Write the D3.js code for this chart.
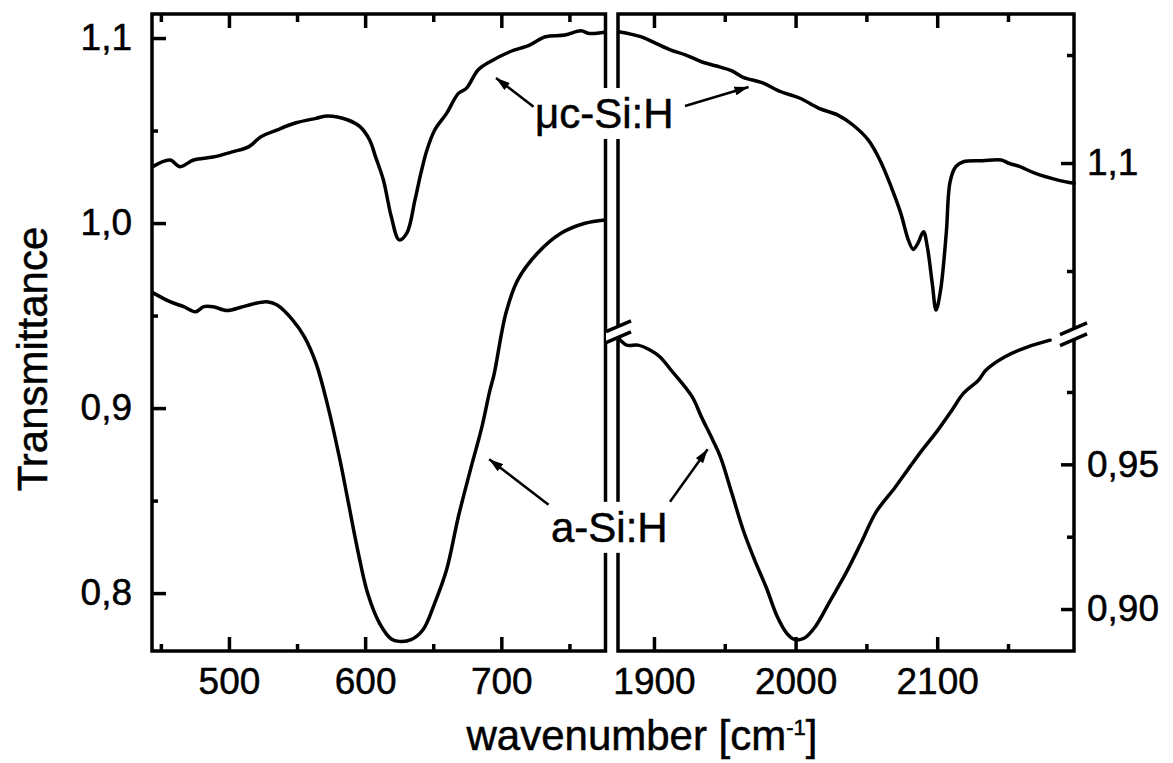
<!DOCTYPE html>
<html>
<head>
<meta charset="utf-8">
<script src="https://cdn.jsdelivr.net/npm/d3@7"></script>
<style>
  body { margin: 0; background: #fff; }
  svg { display: block; font-family: "Liberation Sans", Arial, Helvetica, sans-serif; }
  svg text { stroke: #000; stroke-width: 0.5px; }
</style>
</head>
<body>
<svg width="1173" height="763"></svg>
<script>
// low wavenumber window (Si-H wagging), cm-1 / transmittance
const microLowX = [444, 456.7, 464.1, 474.1, 488.3, 503.0, 514.7, 523.5, 535.1, 549.2, 563.9, 572.7, 587.4, 596.2, 603.3, 607.6, 613.4, 619.2, 625.0, 630.7, 636.6, 641.0, 645.4, 651.1, 659.8, 668.5, 674.3, 682.9, 691.7, 706.3, 720.7, 732.4, 746.7, 758.5, 764.4, 776.0];
const microLowT = [1.0305, 1.0341, 1.0305, 1.0341, 1.0357, 1.0386, 1.0413, 1.0467, 1.0503, 1.0542, 1.0566, 1.0579, 1.0557, 1.0521, 1.0449, 1.0359, 1.0233, 1.0035, 0.9909, 0.9947, 1.0125, 1.0271, 1.0395, 1.0503, 1.0593, 1.0701, 1.0728, 1.0827, 1.0872, 1.0926, 1.0962, 1.1007, 1.1016, 1.1039, 1.1025, 1.1031];
const amorphLowX = [444, 456.7, 466.8, 475.6, 481.4, 488.3, 498.6, 508.8, 517.7, 527.8, 535.1, 546.7, 555.3, 563.9, 572.7, 581.5, 587.3, 594.5, 601.8, 610.5, 619.2, 625.0, 633.7, 642.5, 651.1, 659.8, 668.5, 677.3, 685.8, 691.7, 694.6, 703.4, 712.1, 726.5, 743.8, 761.4, 776.0];
const amorphLowT = [0.9624, 0.9575, 0.9548, 0.9521, 0.9548, 0.9548, 0.9527, 0.9545, 0.9563, 0.9575, 0.9558, 0.9477, 0.9386, 0.9243, 0.9008, 0.8720, 0.8504, 0.8234, 0.8000, 0.7838, 0.7752, 0.7739, 0.7748, 0.7802, 0.7946, 0.8126, 0.8414, 0.8666, 0.8900, 0.9098, 0.9179, 0.9514, 0.9693, 0.9837, 0.9945, 0.9999, 1.0017];

// high wavenumber window (Si-H stretching)
const microHighX = [1875.0, 1890.6, 1901.4, 1912.0, 1922.6, 1933.5, 1944.2, 1955.0, 1963.0, 1976.3, 1989.7, 2003.1, 2016.5, 2029.9, 2040.5, 2051.4, 2059.5, 2067.5, 2074.3, 2079.6, 2083.1, 2086.3, 2090.3, 2093.0, 2096.5, 2099.2, 2102.4, 2106.4, 2109.1, 2113.1, 2118.5, 2131.9, 2145.1, 2150.6, 2158.5, 2169.4, 2185.3, 2196.6];
const microHighT = [1.1608, 1.1585, 1.1554, 1.1523, 1.1500, 1.1469, 1.1449, 1.1427, 1.1397, 1.1372, 1.1330, 1.1300, 1.1253, 1.1222, 1.1176, 1.1106, 1.1014, 1.0890, 1.0767, 1.0644, 1.0600, 1.0628, 1.0682, 1.0613, 1.0443, 1.0319, 1.0412, 1.0675, 1.0913, 1.0983, 1.1006, 1.1011, 1.1014, 1.0999, 1.0983, 1.0952, 1.0921, 1.0906];
const amorphHighX = [1875.0, 1880.7, 1888.7, 1897.2, 1904.3, 1912.0, 1926.9, 1933.5, 1941.5, 1946.9, 1955.0, 1963.0, 1971.1, 1979.1, 1987.1, 1993.8, 1999.2, 2006.0, 2013.9, 2024.7, 2035.4, 2046.1, 2056.8, 2070.2, 2080.8, 2090.3, 2099.7, 2110.5, 2118.5, 2129.2, 2134.5, 2147.9, 2164.0, 2179.7];
const amorphHighT = [0.9936, 0.9912, 0.9912, 0.9895, 0.9871, 0.9826, 0.9734, 0.9664, 0.9584, 0.9526, 0.9400, 0.9273, 0.9169, 0.9077, 0.8973, 0.8916, 0.8895, 0.8899, 0.8939, 0.9031, 0.9123, 0.9227, 0.9335, 0.9420, 0.9492, 0.9555, 0.9613, 0.9688, 0.9745, 0.9791, 0.9826, 0.9872, 0.9906, 0.9929];

// ticks
const lowMajorTicks = [500, 600, 700];
const lowMinorTicks = [450, 550, 650, 750];
const highMajorTicks = [1900, 2000, 2100];
const highMinorTicks = [1950, 2050, 2150];
const leftMajorTicks = [0.8, 0.9, 1.0, 1.1];
const leftMinorTicks = [0.85, 0.95, 1.05];
const upperMajorTicks = [1.1];
const upperMinorTicks = [1.05, 1.15];
const lowerMajorTicks = [0.9, 0.95];
const lowerMinorTicks = [0.925, 0.975];

// annotations: [x, T] on the panel they sit on
const microLabel = [724.7, 1.0514];
const amorphLabel = [736.5, 0.8277];
const microArrowLow = [[723.7, 1.0629], [696.1, 1.0784]];
const microArrowHigh = [[1921.9, 1.1264], [1966.8, 1.1352]];
const amorphArrowLow = [[734.7, 0.8477], [691.1, 0.8724]];
const amorphArrowHigh = [[1911.3, 0.9371], [1937.9, 0.9552]];

const svg = d3.select("svg");
const plotTop = 14, plotBottom = 651;

const xLow = d3.scaleLinear().domain([443.5, 776.5]).range([152, 605.5]);
const xHigh = d3.scaleLinear().domain([1874.6, 2196.6]).range([618, 1074]);
const yLeft = d3.scaleLinear().domain([0.7687, 1.113]).range([plotBottom, plotTop]);
const yUpper = d3.scaleLinear().domain([1.0213, 1.169]).range([333, plotTop]); // right axis above break
const yLower = d3.scaleLinear().domain([0.8855, 0.994]).range([plotBottom, 337]); // right axis below break

const comma = (digits) => (v) => v.toFixed(digits).replace(".", ",");

const defs = svg.append("defs");
defs
  .append("marker")
  .attr("id", "arrow")
  .attr("viewBox", "0 0 14 9")
  .attr("refX", 14)
  .attr("refY", 4.5)
  .attr("markerWidth", 15)
  .attr("markerHeight", 9)
  .attr("markerUnits", "userSpaceOnUse")
  .attr("orient", "auto")
  .append("path")
  .attr("d", "M0,0L14,4.5L0,9z")
  .attr("fill", "#000");

// frames
for (const x of [xLow, xHigh]) {
  svg
    .append("rect")
    .attr("x", x.range()[0])
    .attr("y", plotTop)
    .attr("width", x.range()[1] - x.range()[0])
    .attr("height", plotBottom - plotTop)
    .attr("fill", "none")
    .attr("stroke", "#000")
    .attr("stroke-width", 3.5);
}

function styleAxis(g) {
  g.attr("font-family", null);
  g.select(".domain").remove();
  g.selectAll(".tick line").attr("stroke", "#000").attr("stroke-width", 3.5);
  g.selectAll(".tick text")
    .attr("fill", "#000")
    .attr("font-size", 37);
}

function addAxis(axis, transform, values, size, padding, format) {
  svg
    .append("g")
    .attr("transform", transform)
    .call(
      axis
        .tickValues(values)
        .tickSizeInner(-size)
        .tickSizeOuter(0)
        .tickPadding(padding)
        .tickFormat(format)
    )
    .call(styleAxis);
}

const none = () => "";
for (const [x, major, minor] of [
  [xLow, lowMajorTicks, lowMinorTicks],
  [xHigh, highMajorTicks, highMinorTicks],
]) {
  addAxis(d3.axisBottom(x), `translate(0,${plotBottom})`, major, 14, 17, d3.format("d"));
  addAxis(d3.axisBottom(x), `translate(0,${plotBottom})`, minor, 7, 0, none);
  addAxis(d3.axisTop(x), `translate(0,${plotTop})`, major, 14, 0, none);
  addAxis(d3.axisTop(x), `translate(0,${plotTop})`, minor, 8, 0, none);
}
addAxis(d3.axisLeft(yLeft), `translate(${xLow.range()[0]},0)`, leftMajorTicks, 14, 20, comma(1));
addAxis(d3.axisLeft(yLeft), `translate(${xLow.range()[0]},0)`, leftMinorTicks, 6, 0, none);
addAxis(d3.axisRight(yUpper), `translate(${xHigh.range()[1]},0)`, upperMajorTicks, 13, 13, comma(1));
addAxis(d3.axisRight(yUpper), `translate(${xHigh.range()[1]},0)`, upperMinorTicks, 7, 0, none);
addAxis(d3.axisRight(yLower), `translate(${xHigh.range()[1]},0)`, lowerMajorTicks, 13, 13, comma(2));
addAxis(d3.axisRight(yLower), `translate(${xHigh.range()[1]},0)`, lowerMinorTicks, 7, 0, none);

// curves
const series = [
  [microLowX, microLowT, xLow, yLeft],
  [amorphLowX, amorphLowT, xLow, yLeft],
  [microHighX, microHighT, xHigh, yUpper],
  [amorphHighX, amorphHighT, xHigh, yLower],
];
for (const [xs, ts, x, y] of series) {
  const line = d3
    .line()
    .curve(d3.curveCatmullRom)
    .x((d, i) => x(xs[i]))
    .y((d) => y(d));
  svg
    .append("path")
    .attr("d", line(ts))
    .attr("fill", "none")
    .attr("stroke", "#000")
    .attr("stroke-width", 3.5)
    .attr("stroke-linejoin", "round")
    .attr("stroke-linecap", "round");
}

// axis break marks
function breakMark(cx, cy, left, right) {
  const g = svg.append("g");
  const slope = -0.43;
  g.append("path")
    .attr("d", `M${cx - left},${cy - 5.5 - left * slope}L${cx + right},${cy - 5.5 + right * slope}L${cx + right},${cy + 5.5 + right * slope}L${cx - left},${cy + 5.5 - left * slope}Z`)
    .attr("fill", "#fff");
  for (const off of [-5.5, 5.5]) {
    g.append("line")
      .attr("x1", cx - left)
      .attr("y1", cy + off - left * slope)
      .attr("x2", cx + right)
      .attr("y2", cy + off + right * slope)
      .attr("stroke", "#000")
      .attr("stroke-width", 3.5);
  }
}
breakMark(xHigh.range()[0], 332, 12, 13);
breakMark(xHigh.range()[1], 334, 14, 13);

// labels with white boxes that cut the panel edges
function label(text, x, y) {
  const g = svg.append("g");
  const rect = g.append("rect").attr("fill", "#fff").attr("stroke", "none");
  const t = g
    .append("text")
    .attr("x", x)
    .attr("y", y)
    .attr("font-size", 42)
    .attr("fill", "#000")
    .text(text);
  const b = t.node().getBBox();
  rect
    .attr("x", b.x - 4)
    .attr("y", b.y - 2)
    .attr("width", b.width + 8)
    .attr("height", b.height + 4);
}
label("\u03bcc-Si:H", xLow(microLabel[0]), yLeft(microLabel[1]));
label("a-Si:H", xLow(amorphLabel[0]), yLeft(amorphLabel[1]));

// arrows
for (const [[a, b], x, y] of [
  [microArrowLow, xLow, yLeft],
  [microArrowHigh, xHigh, yUpper],
  [amorphArrowLow, xLow, yLeft],
  [amorphArrowHigh, xHigh, yLower],
]) {
  svg
    .append("line")
    .attr("x1", x(a[0]))
    .attr("y1", y(a[1]))
    .attr("x2", x(b[0]))
    .attr("y2", y(b[1]))
    .attr("stroke", "#000")
    .attr("stroke-width", 2.5)
    .attr("marker-end", "url(#arrow)");
}

// axis titles
svg
  .append("text")
  .attr("transform", "translate(47,359) rotate(-90)")
  .attr("text-anchor", "middle")
  .attr("font-size", 42)
  .attr("fill", "#000")
  .text("Transmittance");

const xTitle = svg
  .append("text")
  .attr("x", 642)
  .attr("y", 750)
  .attr("text-anchor", "middle")
  .attr("font-size", 42)
  .attr("fill", "#000");
xTitle.append("tspan").text("wavenumber [cm");
xTitle.append("tspan").attr("font-size", 22).attr("dy", -15).text("-1");
xTitle.append("tspan").attr("dy", 15).text("]");
</script>
</body>
</html>
